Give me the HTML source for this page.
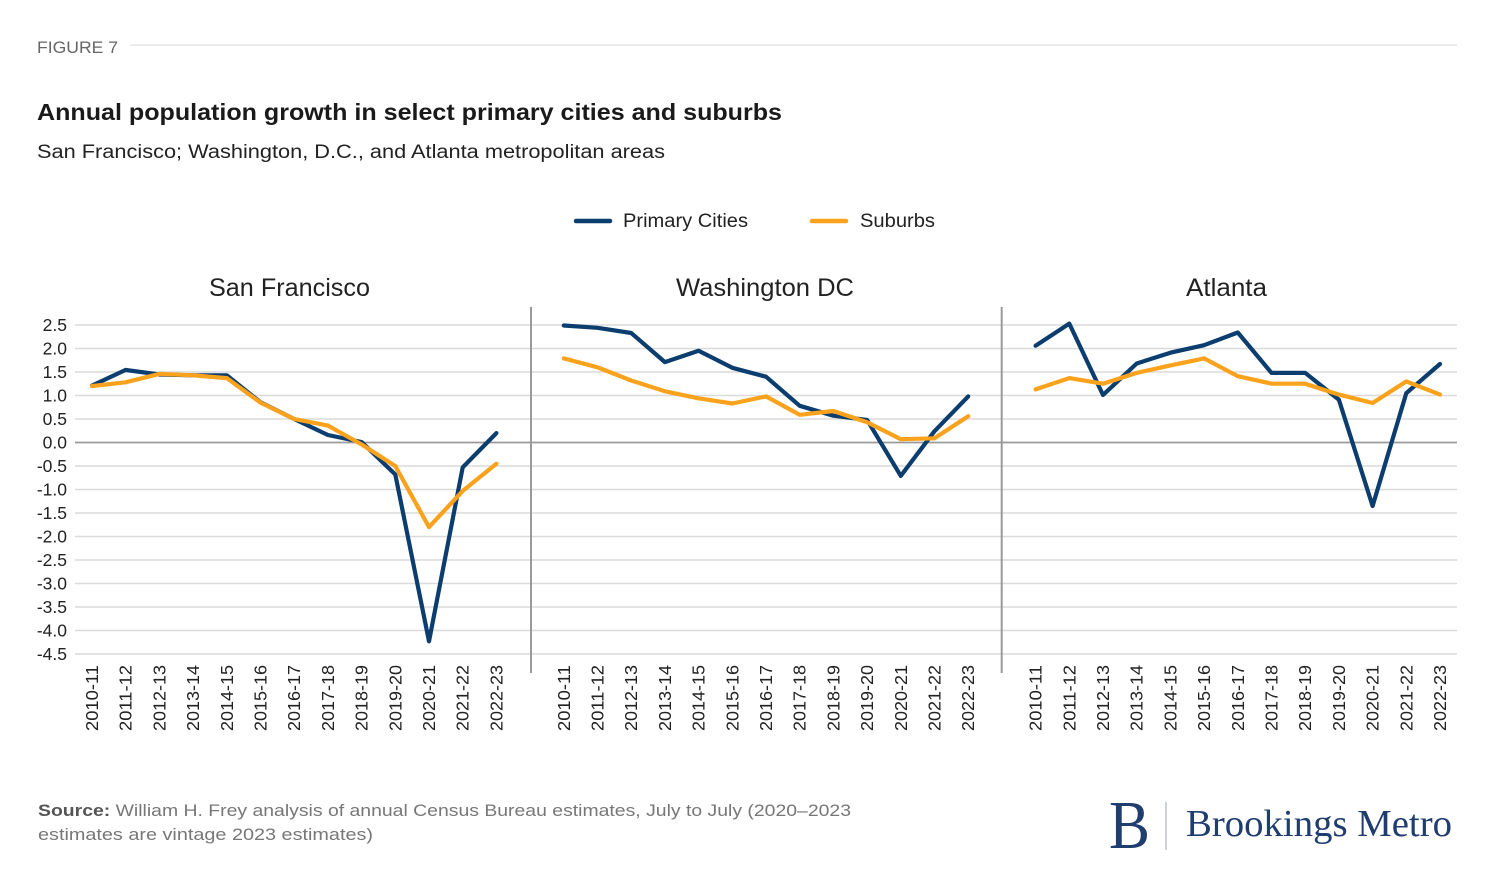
<!DOCTYPE html>
<html><head><meta charset="utf-8"><style>
html,body{margin:0;padding:0;background:#fff;}
svg{display:block;}
text{font-family:"Liberation Sans",Arial,sans-serif;}
</style></head><body>
<svg width="1500" height="894" viewBox="0 0 1500 894" xmlns="http://www.w3.org/2000/svg">
<rect width="1500" height="894" fill="#fff"/>
<!-- header -->
<text x="37" y="53" font-size="17" fill="#666" textLength="81" lengthAdjust="spacingAndGlyphs">FIGURE 7</text>
<line x1="130" y1="45" x2="1457" y2="45" stroke="#e6e6e6" stroke-width="1.5"/>
<text x="37" y="120" font-size="23" font-weight="bold" fill="#1a1a1a" textLength="745" lengthAdjust="spacingAndGlyphs">Annual population growth in select primary cities and suburbs</text>
<text x="37" y="158" font-size="19" fill="#222" textLength="628" lengthAdjust="spacingAndGlyphs">San Francisco; Washington, D.C., and Atlanta metropolitan areas</text>
<!-- legend -->
<line x1="576" y1="221" x2="610" y2="221" stroke="#0b3d6f" stroke-width="4.5" stroke-linecap="round"/>
<text x="623" y="227" font-size="19" fill="#222" textLength="125" lengthAdjust="spacingAndGlyphs">Primary Cities</text>
<line x1="812" y1="221" x2="846" y2="221" stroke="#fba21d" stroke-width="4.5" stroke-linecap="round"/>
<text x="860" y="227" font-size="19" fill="#222" textLength="75" lengthAdjust="spacingAndGlyphs">Suburbs</text>
<!-- panel titles -->
<text x="289.5" y="296" font-size="25" fill="#222" text-anchor="middle" textLength="161" lengthAdjust="spacingAndGlyphs">San Francisco</text>
<text x="765" y="296" font-size="25" fill="#222" text-anchor="middle" textLength="178" lengthAdjust="spacingAndGlyphs">Washington DC</text>
<text x="1226.5" y="296" font-size="25" fill="#222" text-anchor="middle" textLength="81" lengthAdjust="spacingAndGlyphs">Atlanta</text>
<!-- gridlines -->
<g stroke="#dadada" stroke-width="1.6">
<line x1="75" y1="325" x2="1457" y2="325"/>
<line x1="75" y1="348.5" x2="1457" y2="348.5"/>
<line x1="75" y1="372" x2="1457" y2="372"/>
<line x1="75" y1="395.5" x2="1457" y2="395.5"/>
<line x1="75" y1="419" x2="1457" y2="419"/>
<line x1="75" y1="466" x2="1457" y2="466"/>
<line x1="75" y1="489.5" x2="1457" y2="489.5"/>
<line x1="75" y1="513" x2="1457" y2="513"/>
<line x1="75" y1="536.5" x2="1457" y2="536.5"/>
<line x1="75" y1="560" x2="1457" y2="560"/>
<line x1="75" y1="583.5" x2="1457" y2="583.5"/>
<line x1="75" y1="607" x2="1457" y2="607"/>
<line x1="75" y1="630.5" x2="1457" y2="630.5"/>
<line x1="75" y1="654" x2="1457" y2="654"/>
</g>
<line x1="75" y1="442.5" x2="1457" y2="442.5" stroke="#9a9a9a" stroke-width="1.8"/>
<!-- separators -->
<line x1="531" y1="307" x2="531" y2="673" stroke="#9a9a9a" stroke-width="2"/>
<line x1="1001.7" y1="307" x2="1001.7" y2="673" stroke="#9a9a9a" stroke-width="2"/>
<!-- y tick labels -->
<g font-size="17.5" fill="#222" text-anchor="end">
<text x="67" y="331">2.5</text>
<text x="67" y="354.5">2.0</text>
<text x="67" y="378">1.5</text>
<text x="67" y="401.5">1.0</text>
<text x="67" y="425">0.5</text>
<text x="67" y="448.5">0.0</text>
<text x="67" y="472">-0.5</text>
<text x="67" y="495.5">-1.0</text>
<text x="67" y="519">-1.5</text>
<text x="67" y="542.5">-2.0</text>
<text x="67" y="566">-2.5</text>
<text x="67" y="589.5">-3.0</text>
<text x="67" y="613">-3.5</text>
<text x="67" y="636.5">-4.0</text>
<text x="67" y="660">-4.5</text>
</g>
<!-- x labels -->
<g font-size="17.5" fill="#222" text-anchor="end">
<text transform="translate(98,665) rotate(-90)" textLength="66" lengthAdjust="spacingAndGlyphs">2010-11</text>
<text transform="translate(131.7,665) rotate(-90)" textLength="66" lengthAdjust="spacingAndGlyphs">2011-12</text>
<text transform="translate(165.4,665) rotate(-90)" textLength="66" lengthAdjust="spacingAndGlyphs">2012-13</text>
<text transform="translate(199.1,665) rotate(-90)" textLength="66" lengthAdjust="spacingAndGlyphs">2013-14</text>
<text transform="translate(232.8,665) rotate(-90)" textLength="66" lengthAdjust="spacingAndGlyphs">2014-15</text>
<text transform="translate(266.5,665) rotate(-90)" textLength="66" lengthAdjust="spacingAndGlyphs">2015-16</text>
<text transform="translate(300.2,665) rotate(-90)" textLength="66" lengthAdjust="spacingAndGlyphs">2016-17</text>
<text transform="translate(333.9,665) rotate(-90)" textLength="66" lengthAdjust="spacingAndGlyphs">2017-18</text>
<text transform="translate(367.6,665) rotate(-90)" textLength="66" lengthAdjust="spacingAndGlyphs">2018-19</text>
<text transform="translate(401.3,665) rotate(-90)" textLength="66" lengthAdjust="spacingAndGlyphs">2019-20</text>
<text transform="translate(435,665) rotate(-90)" textLength="66" lengthAdjust="spacingAndGlyphs">2020-21</text>
<text transform="translate(468.7,665) rotate(-90)" textLength="66" lengthAdjust="spacingAndGlyphs">2021-22</text>
<text transform="translate(502.4,665) rotate(-90)" textLength="66" lengthAdjust="spacingAndGlyphs">2022-23</text>

<text transform="translate(569.8,665) rotate(-90)" textLength="66" lengthAdjust="spacingAndGlyphs">2010-11</text>
<text transform="translate(603.5,665) rotate(-90)" textLength="66" lengthAdjust="spacingAndGlyphs">2011-12</text>
<text transform="translate(637.2,665) rotate(-90)" textLength="66" lengthAdjust="spacingAndGlyphs">2012-13</text>
<text transform="translate(670.9,665) rotate(-90)" textLength="66" lengthAdjust="spacingAndGlyphs">2013-14</text>
<text transform="translate(704.6,665) rotate(-90)" textLength="66" lengthAdjust="spacingAndGlyphs">2014-15</text>
<text transform="translate(738.3,665) rotate(-90)" textLength="66" lengthAdjust="spacingAndGlyphs">2015-16</text>
<text transform="translate(772,665) rotate(-90)" textLength="66" lengthAdjust="spacingAndGlyphs">2016-17</text>
<text transform="translate(805.7,665) rotate(-90)" textLength="66" lengthAdjust="spacingAndGlyphs">2017-18</text>
<text transform="translate(839.4,665) rotate(-90)" textLength="66" lengthAdjust="spacingAndGlyphs">2018-19</text>
<text transform="translate(873.1,665) rotate(-90)" textLength="66" lengthAdjust="spacingAndGlyphs">2019-20</text>
<text transform="translate(906.8,665) rotate(-90)" textLength="66" lengthAdjust="spacingAndGlyphs">2020-21</text>
<text transform="translate(940.5,665) rotate(-90)" textLength="66" lengthAdjust="spacingAndGlyphs">2021-22</text>
<text transform="translate(974.2,665) rotate(-90)" textLength="66" lengthAdjust="spacingAndGlyphs">2022-23</text>

<text transform="translate(1041.6,665) rotate(-90)" textLength="66" lengthAdjust="spacingAndGlyphs">2010-11</text>
<text transform="translate(1075.3,665) rotate(-90)" textLength="66" lengthAdjust="spacingAndGlyphs">2011-12</text>
<text transform="translate(1109,665) rotate(-90)" textLength="66" lengthAdjust="spacingAndGlyphs">2012-13</text>
<text transform="translate(1142.7,665) rotate(-90)" textLength="66" lengthAdjust="spacingAndGlyphs">2013-14</text>
<text transform="translate(1176.4,665) rotate(-90)" textLength="66" lengthAdjust="spacingAndGlyphs">2014-15</text>
<text transform="translate(1210.1,665) rotate(-90)" textLength="66" lengthAdjust="spacingAndGlyphs">2015-16</text>
<text transform="translate(1243.8,665) rotate(-90)" textLength="66" lengthAdjust="spacingAndGlyphs">2016-17</text>
<text transform="translate(1277.5,665) rotate(-90)" textLength="66" lengthAdjust="spacingAndGlyphs">2017-18</text>
<text transform="translate(1311.2,665) rotate(-90)" textLength="66" lengthAdjust="spacingAndGlyphs">2018-19</text>
<text transform="translate(1344.9,665) rotate(-90)" textLength="66" lengthAdjust="spacingAndGlyphs">2019-20</text>
<text transform="translate(1378.6,665) rotate(-90)" textLength="66" lengthAdjust="spacingAndGlyphs">2020-21</text>
<text transform="translate(1412.3,665) rotate(-90)" textLength="66" lengthAdjust="spacingAndGlyphs">2021-22</text>
<text transform="translate(1446,665) rotate(-90)" textLength="66" lengthAdjust="spacingAndGlyphs">2022-23</text>
</g>
<!-- series -->
<g fill="none" stroke-width="4.2" stroke-linejoin="round" stroke-linecap="round">
<polyline stroke="#0b3d6f" points="92,385.6 125.7,369.9 159.4,374.5 193.1,375.3 226.8,375.3 260.5,402.3 294.2,419 327.9,435 361.6,442 395.3,474.5 429,641.3 462.7,467.4 496.4,433.1"/>
<polyline stroke="#0b3d6f" points="563.8,325.5 597.5,327.8 631.2,333 664.9,362.1 698.6,350.8 732.3,367.8 766,376.7 799.7,405.8 833.4,415.7 867.1,419.9 900.8,475.9 934.5,431.2 968.2,396.4"/>
<polyline stroke="#0b3d6f" points="1035.6,345.7 1069.3,323.6 1103,395 1136.7,363.5 1170.4,352.7 1204.1,345.2 1237.8,332.5 1271.5,372.9 1305.2,372.9 1338.9,399.7 1372.6,506 1406.3,393.1 1440,364"/>
<polyline stroke="#fba21d" points="92,386.1 125.7,382.3 159.4,373.9 193.1,375.3 226.8,378.1 260.5,402.6 294.2,419 327.9,425.6 361.6,444.4 395.3,466 429,527.1 462.7,490.9 496.4,463.7"/>
<polyline stroke="#fba21d" points="563.8,358.4 597.5,367.3 631.2,380.5 664.9,391.3 698.6,398.3 732.3,403.5 766,396.4 799.7,414.8 833.4,411 867.1,422.3 900.8,439.2 934.5,438.3 968.2,416.2"/>
<polyline stroke="#fba21d" points="1035.6,389.4 1069.3,378.1 1103,383.7 1136.7,372.9 1170.4,365.4 1204.1,358.4 1237.8,376.2 1271.5,383.7 1305.2,383.7 1338.9,394.6 1372.6,403 1406.3,381.4 1440,394.6"/>
</g>
<!-- footer -->
<text x="38" y="816" font-size="17" fill="#777" textLength="813" lengthAdjust="spacingAndGlyphs"><tspan font-weight="bold" fill="#555">Source:</tspan> William H. Frey analysis of annual Census Bureau estimates, July to July (2020–2023</text>
<text x="38" y="840" font-size="17" fill="#777" textLength="335" lengthAdjust="spacingAndGlyphs">estimates are vintage 2023 estimates)</text>
<!-- logo -->
<text x="1109" y="848" font-family="'Liberation Serif',serif" font-size="69" fill="#1f3d6e" textLength="41" lengthAdjust="spacingAndGlyphs" style="font-family:'Liberation Serif',serif">B</text>
<line x1="1166" y1="802" x2="1166" y2="850" stroke="#b9c2d3" stroke-width="1.5"/>
<text x="1186" y="836" font-size="38" fill="#1f3d6e" textLength="266" lengthAdjust="spacingAndGlyphs" style="font-family:'Liberation Serif',serif">Brookings Metro</text>
</svg>
</body></html>
